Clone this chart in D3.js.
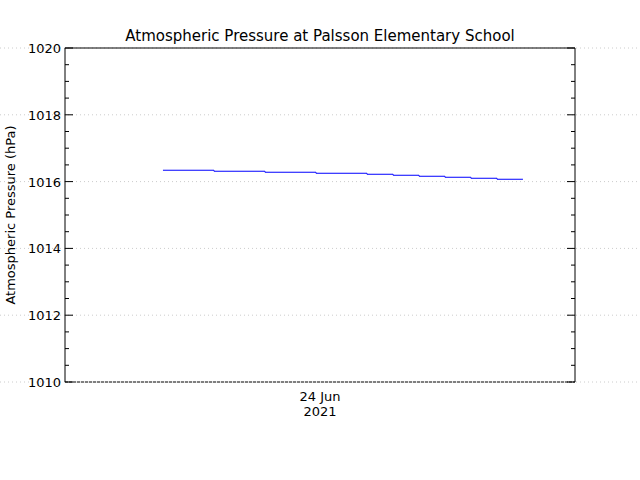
<!DOCTYPE html><html><head><script src="https://cdn.jsdelivr.net/npm/d3@7"></script>
<style>body{margin:0;background:#fff}text{font-family:"DejaVu Sans",sans-serif}</style></head><body>
<svg id="c" width="640" height="480"></svg>
<script>
const hours=[-7.39,-4.99,-2.59,-0.19,2.21,3.44,4.66,5.88,7.10,8.33,9.55];
const pressure=[1016.34,1016.31,1016.28,1016.25,1016.22,1016.19,1016.16,1016.13,1016.10,1016.07,1016.07];
const yTicks=[1010,1012,1014,1016,1018,1020];
const xLabel=["24 Jun","2021"];
const svg=d3.select("#c");
const L=65,R=575,T=48,B=382;
const x=d3.scaleLinear().domain([-12,12]).range([L,R]);
const y=d3.scaleLinear().domain([1010,1020]).range([B,T]);
svg.selectAll(".g").data(yTicks).enter().append("line").attr("x1",0).attr("x2",640)
 .attr("y1",d=>y(d)).attr("y2",d=>y(d)).attr("stroke","#ccc").attr("stroke-dasharray","1,3");
[[L,T,R,T],[L,T,L,B],[R,T,R,B]].forEach(s=>svg.append("line").attr("x1",s[0]).attr("y1",s[1]).attr("x2",s[2]).attr("y2",s[3]).attr("stroke","#000"));
svg.append("line").attr("x1",L).attr("x2",R).attr("y1",B).attr("y2",B).attr("stroke","#000").attr("stroke-dasharray","3,1");
const minor=d3.range(1010,1020.01,0.5);
minor.forEach(v=>{const len=(v%2===0)?8:4;
 svg.append("line").attr("x1",L).attr("x2",L+len).attr("y1",y(v)).attr("y2",y(v)).attr("stroke","#000");
 svg.append("line").attr("x1",R).attr("x2",R-len).attr("y1",y(v)).attr("y2",y(v)).attr("stroke","#000");});
svg.selectAll(".yl").data(yTicks).enter().append("text").attr("x",L-4).attr("y",d=>y(d)+5)
 .attr("text-anchor","end").attr("font-size",13).text(d=>d);
xLabel.forEach((t,i)=>svg.append("text").attr("x",x(0)).attr("y",401+i*15).attr("text-anchor","middle").attr("font-size",13).text(t));
svg.append("text").attr("x",320).attr("y",41).attr("text-anchor","middle").attr("font-size",15).text("Atmospheric Pressure at Palsson Elementary School");
svg.append("text").attr("transform","translate(15,"+(T+B)/2+") rotate(-90)").attr("text-anchor","middle").attr("font-size",13).text("Atmospheric Pressure (hPa)");
svg.append("path").datum(hours.map((h,i)=>[h,pressure[i]]))
 .attr("d",d3.line().x(d=>x(d[0])).y(d=>y(d[1])).curve(d3.curveStepAfter))
 .attr("fill","none").attr("stroke","#00f").attr("stroke-width",1);
</script></body></html>
